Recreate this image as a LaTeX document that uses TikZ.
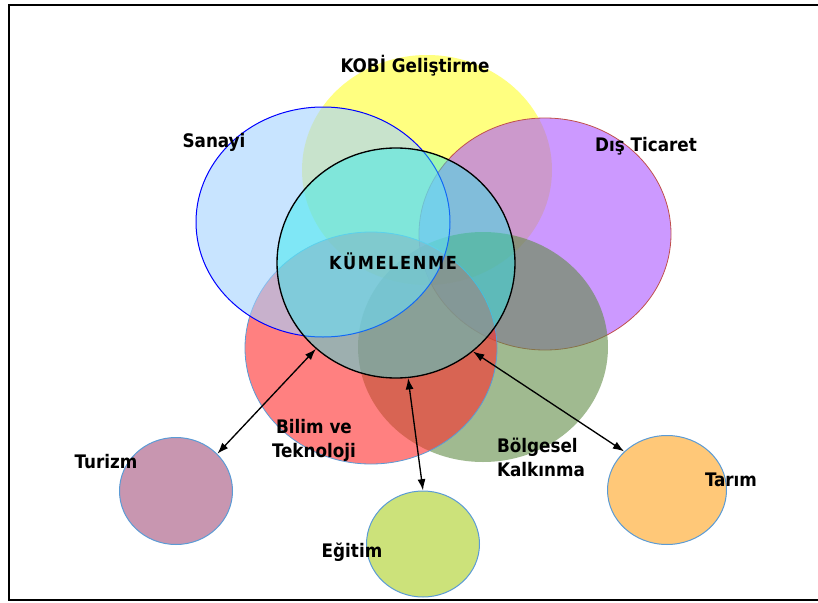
\documentclass[tikz,border=0pt]{standalone}
\usepackage{fontspec}
\setmainfont{DejaVu Sans Condensed}
\usetikzlibrary{shapes.geometric, arrows.meta}

\definecolor{kobiC}{RGB}{255,255,43}
\definecolor{sanayiC}{RGB}{163,210,255}
\definecolor{disC}{RGB}{170,85,255}
\definecolor{bolgeC}{RGB}{97,140,70}
\definecolor{bilimC}{RGB}{255,43,43}
\definecolor{kumeC}{RGB}{40,235,235}
\definecolor{turizmC}{RGB}{200,150,176}
\definecolor{egitimC}{RGB}{204,226,122}
\definecolor{tarimC}{RGB}{255,200,120}
\definecolor{edgeC}{RGB}{91,155,213}
\definecolor{disEdge}{RGB}{192,80,77}

\begin{document}
\begin{tikzpicture}[x=0.75pt,y=0.75pt,yscale=-1,xscale=1,
  venn/.style 2 args={ellipse, inner sep=0pt, minimum width=#1*0.75pt, minimum height=#2*0.75pt, fill opacity=0.6},
  small/.style 2 args={ellipse, inner sep=0pt, minimum width=#1*0.75pt, minimum height=#2*0.75pt, draw=edgeC, line width=0.75pt},
  lbl/.style={inner sep=0pt, font=\fontsize{14}{18}\selectfont\bfseries},
  arr/.style={{Latex[length=8.5pt,width=6pt]}-{Latex[length=8.5pt,width=6pt]}, line width=1pt}]
\useasboundingbox (0,0) rectangle (818,603);

%Frame
\draw [line width=1.5pt] (840,5) -- (9,5) -- (9,600) -- (840,600) ;

%Shape: Ellipse
\node (kobi) at (427,170) [venn={250}{230}, fill=kobiC] {};
%Shape: Ellipse
\node (dis) at (545,234) [venn={252}{232}, fill=disC, draw=disEdge, line width=0.6pt] {};
%Shape: Ellipse
\node (bolge) at (483,347) [venn={250}{230}, fill=bolgeC] {};
%Shape: Ellipse
\node (bilim) at (371,348) [venn={252}{232}, fill=bilimC, draw=edgeC, line width=0.6pt] {};
%Shape: Ellipse
\node (sanayi) at (323,222) [venn={254}{230}, fill=sanayiC, draw=blue, line width=0.75pt] {};
%Shape: Ellipse
\node (kume) at (396,263) [venn={238}{230}, fill=kumeC, fill opacity=0.45, draw=black, line width=1pt] {};

%Shape: Ellipse
\node (turizm) at (176,491) [small={113}{107}, fill=turizmC] {};
%Shape: Ellipse
\node (egitim) at (423,544) [small={113}{106}, fill=egitimC] {};
%Shape: Ellipse
\node (tarim) at (667,490) [small={119}{109}, fill=tarimC] {};

%Arrows
\draw [arr] (kume.227) -- (turizm.42) ;
\draw [arr] (kume.276) -- (egitim.90) ;
\draw [arr] (kume.311) -- (tarim.138) ;

% Text Node
\node (tkobi) at (415,66) [lbl] {KOBİ Geliştirme};
% Text Node
\node (tsanayi) at (214,142) [lbl] {Sanayi};
% Text Node
\node (tdis) at (646,146) [lbl] {Dış Ticaret};
% Text Node
\node (tkume) at (393,261) [lbl, font=\fontsize{13.5}{16}\selectfont\bfseries\addfontfeature{LetterSpace=9}] {KÜMELENME};
% Text Node
\node (tbilim) at (314,440) [lbl, align=center] {Bilim ve\\Teknoloji};
% Text Node
\node (tbolge) at (541,457) [lbl, align=left] {Bölgesel\\Kalkınma};
% Text Node
\node (tturizm) at (106,462) [lbl] {Turizm};
% Text Node
\node (tegitim) at (352,552) [lbl] {Eğitim};
% Text Node
\node (ttarim) at (731,480) [lbl] {Tarım};

\end{tikzpicture}
\end{document}
